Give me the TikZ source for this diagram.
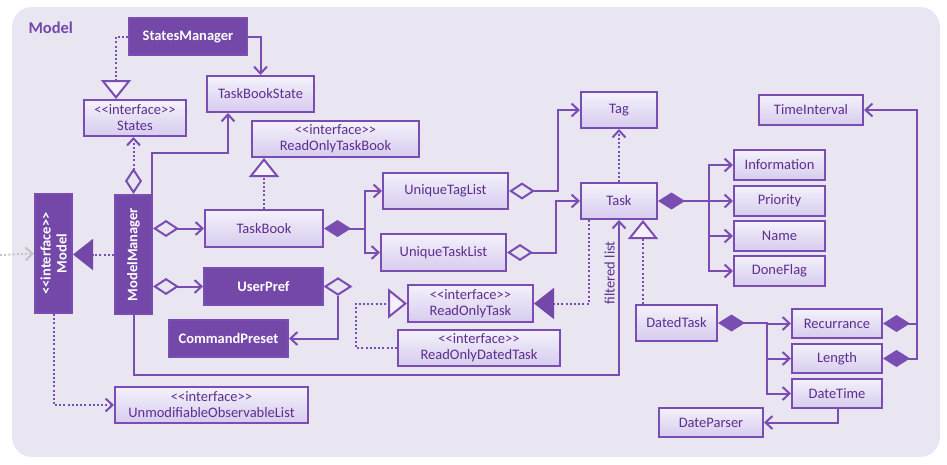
\documentclass[tikz,border=0pt]{standalone}
\usepackage{fontspec}
\setmainfont{Carlito}
\usepackage{tikz}
\usetikzlibrary{arrows.meta,positioning,shapes.geometric}
\definecolor{Frame}{HTML}{E9E6F1}
\definecolor{UmlDark}{HTML}{7448A9}
\definecolor{UmlLine}{HTML}{7A4DB3}
\definecolor{UmlTop}{HTML}{F4F1FB}
\definecolor{UmlBottom}{HTML}{D7CCEE}
\definecolor{UmlText}{HTML}{5C2E8E}
\definecolor{Faded}{HTML}{C4C1C8}
\newcommand{\stereo}[1]{<\kern0pt<#1>\kern0pt>}

\begin{document}
\begin{tikzpicture}[x=1pt, y=-1pt,
  Nav/.tip={Straight Barb[length=7pt,width=13pt]},
  Agg/.tip={Diamond[open,length=26pt,width=17pt]},
  Comp/.tip={Diamond[length=27pt,width=17pt]},
  Real/.tip={Triangle[length=19pt,width=30pt,fill=UmlTop]},
  RealDark/.tip={Triangle[length=20pt,width=31pt,color=UmlDark]},
  lightbox/.style={draw=UmlLine, line width=2pt, top color=UmlTop, bottom color=UmlBottom,
    text=UmlText, align=center, inner sep=0pt, minimum height=36pt,
    font=\fontsize{14.5}{16}\selectfont},
  smallbox/.style={lightbox, minimum height=30pt},
  darkbox/.style={draw=UmlLine, line width=2pt, fill=UmlDark, text=white, align=center,
    inner sep=0pt, minimum height=37pt, font=\fontsize{14.5}{16}\selectfont\bfseries},
  aggbox/.style={diamond, draw=UmlLine, line width=2pt, inner sep=0pt,
    minimum width=26pt, minimum height=17pt},
  assoc/.style={draw=UmlLine, line width=2pt, -Nav},
  depend/.style={assoc, dash pattern=on 2pt off 2.2pt},
  faded/.style={draw=Faded, line width=2pt, dash pattern=on 2pt off 2.2pt, -Nav}
]
\useasboundingbox (0,0) rectangle (947,464);
\fill[Frame, rounded corners=20pt] (12,7) rectangle (940,457);
\node[anchor=west, text=UmlDark, font=\fontsize{16.5}{18}\selectfont\bfseries] (title) at (25,28) {Model};

\node[darkbox, minimum width=118pt] (sm) at (188,36.5) {StatesManager};
\node[lightbox, minimum width=107pt] (tbs) at (260.5,94) {TaskBookState};
\node[lightbox, minimum width=102pt] (states) at (135,118) {\stereo{interface}\\States};
\node[lightbox, minimum width=167pt] (rotb) at (335.5,139) {\stereo{interface}\\ReadOnlyTaskBook};
\node[darkbox, rotate=90, minimum width=119pt] (mm) at (133.5,254.5) {ModelManager};
\node[darkbox, rotate=90, minimum width=119pt] (model) at (53.5,253.5) {\stereo{interface}\\Model};
\node[lightbox, minimum width=118pt, minimum height=37pt] (tb) at (264,228.5) {TaskBook};
\node[darkbox, minimum width=119pt] (up) at (263.5,286.5) {UserPref};
\node[darkbox, minimum width=119pt] (cp) at (228.5,338.5) {CommandPreset};
\node[lightbox, minimum width=125pt] (utag) at (445.5,191) {UniqueTagList};
\node[lightbox, minimum width=125pt, minimum height=37pt] (utask) at (443.5,252.5) {UniqueTaskList};
\node[lightbox, minimum width=76pt] (tag) at (619,110) {Tag};
\node[lightbox, minimum width=76pt] (task) at (619,201) {Task};
\node[lightbox, minimum width=125pt, minimum height=37pt] (rot) at (470.5,303.5) {\stereo{interface}\\ReadOnlyTask};
\node[lightbox, minimum width=162pt] (rodt) at (479,348) {\stereo{interface}\\ReadOnlyDatedTask};
\node[lightbox, minimum width=81pt] (dt) at (676.5,323) {DatedTask};
\node[smallbox, minimum width=91pt] (info) at (779.5,165) {Information};
\node[smallbox, minimum width=91pt, below=4pt of info] (prio) {Priority};
\node[smallbox, minimum width=91pt, below=3pt of prio] (name) {Name};
\node[smallbox, minimum width=91pt, below=3pt of name] (done) {DoneFlag};
\node[smallbox, minimum width=104pt] (ti) at (811,110) {TimeInterval};
\node[smallbox, minimum width=90pt, minimum height=29pt] (rec) at (837,323.5) {Recurrance};
\node[smallbox, minimum width=90pt, minimum height=29pt, below=4pt of rec] (len) {Length};
\node[smallbox, minimum width=90pt, minimum height=29pt, below=4pt of len] (dtime) {DateTime};
\node[smallbox, minimum width=104pt, minimum height=29pt] (dp) at (711,422.5) {DateParser};
\node[lightbox, minimum width=193pt] (uol) at (211.5,405) {\stereo{interface}\\UnmodifiableObservableList};
\node[aggbox, anchor=west] (upagg) at (up.east) {};
\coordinate (extern) at (0,255);

\draw[depend, -Real] (sm.west) -| ([xshift=-19pt]states.north);
\draw[assoc] (sm.east) -| (tbs.north);
\draw[depend, Agg-Nav] (mm.east) -- ([xshift=-1.5pt]states.south);
\draw[assoc] ([xshift=-1pt]mm.south east) -- ++(0,-41) -| ([xshift=-32.5pt]tbs.south);
\draw[depend, -Real] (tb.north) -- (tb.north |- rotb.south);
\draw[assoc, Agg-Nav] (mm.south |- tb) -- (tb.west);
\draw[assoc, Agg-Nav] (mm.south |- up) -- (up.west);
\draw[depend, -RealDark] (mm.north) -- (mm.north -| model.south);
\draw[faded] (extern) -- (model.north);
\draw[depend] (model.west) |- (uol.west);
\draw[assoc] (mm.west) -- ++(0,60) -| node[pos=0.83, rotate=90, above, text=UmlText,
  font=\fontsize{14.5}{16}\selectfont] (flabel) {filtered list} (task.south);
\draw[assoc] (upagg.south) |- (cp.east);
\draw[assoc, Comp-Nav] (tb.east) -- ++(41,0) |- (utag.west);
\draw[assoc] ([xshift=41pt]tb.east) |- (utask.west);
\draw[assoc, Agg-Nav] (utag.east) -- ++(49,0) |- (tag.west);
\draw[assoc, Agg-Nav] (utask.east) -- ++(49,0) |- (task.west);
\draw[depend] (task.north) -- (tag.south);
\draw[depend, -RealDark] ([xshift=-30pt]task.south) |- (rot.east);
\draw[depend, -Real] (rodt.west) -- ++(-41,0) |- (rot.west);
\draw[depend, -Real] ([xshift=-33.5pt]dt.north) -- ([xshift=24pt]task.south);
\draw[assoc, Comp-Nav] (task.east) -- ++(51,0) |- (info.west);
\foreach \n in {prio,name,done} \draw[assoc] ([xshift=51pt]task.east) |- (\n.west);
\draw[assoc, Comp-Nav] (dt.east) -- ++(49,0) |- (rec.west);
\foreach \n in {len,dtime} \draw[assoc] ([xshift=49pt]dt.east) |- (\n.west);
\draw[assoc, Comp-Nav] (rec.east) -- ++(34,0) |- (ti.east);
\draw[assoc, Comp-] (len.east) -| ([xshift=34pt]rec.east);
\draw[assoc] ([xshift=1pt]dtime.south) |- (dp.east);
\end{tikzpicture}
\end{document}
